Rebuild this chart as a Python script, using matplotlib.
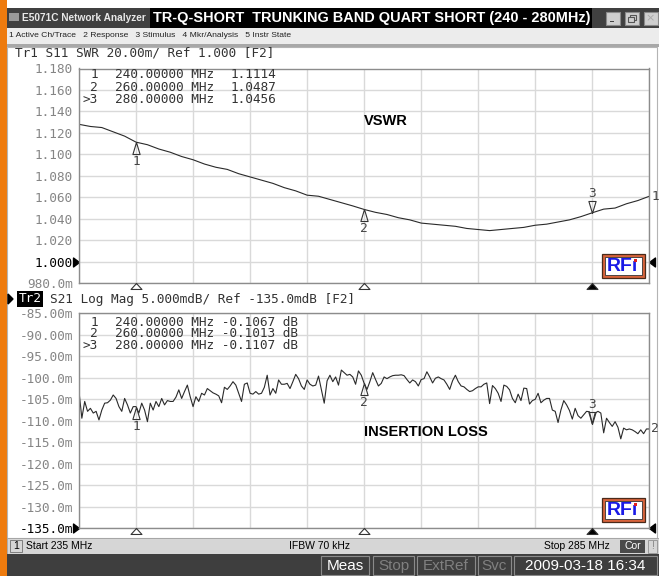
import matplotlib
matplotlib.use("Agg")
import matplotlib.pyplot as plt
from matplotlib.patches import Rectangle

W, H = 659, 576
MONO = "DejaVu Sans Mono"
SANS = "Liberation Sans"

# sweep / data
f_start, f_stop = 235, 285
swr_freq = list(range(235, 286))
swr = [1.128, 1.126, 1.125, 1.121, 1.117, 1.1114, 1.109, 1.105, 1.102, 1.098,
       1.095, 1.091, 1.088, 1.086, 1.082, 1.079, 1.076, 1.073, 1.069, 1.066,
       1.062, 1.061, 1.058, 1.055, 1.052, 1.0487, 1.046, 1.044, 1.041, 1.039,
       1.036, 1.035, 1.034, 1.033, 1.031, 1.030, 1.029, 1.030, 1.031, 1.032,
       1.034, 1.035, 1.037, 1.039, 1.042, 1.0456, 1.049, 1.050, 1.054, 1.057,
       1.061]

il_freq = [235 + 0.25 * k for k in range(201)]
il_mdb = [-103.2, -109.4, -105.5, -107.8, -107.1, -108.2, -107.8, -109.8, -107.5, -105.9,
          -105.8, -105.2, -104.0, -104.8, -106.7, -107.8, -104.8, -106.3, -108.2, -106.7,
          -106.7, -108.2, -105.9, -107.5, -110.2, -105.9, -107.5, -105.5, -106.7, -104.8,
          -106.3, -105.3, -105.5, -105.5, -104.5, -102.8, -104.8, -103.2, -101.7, -104.4,
          -106.7, -104.4, -105.5, -103.6, -104.0, -102.5, -103.0, -103.5, -103.8, -104.2,
          -105.8, -102.2, -102.7, -101.9, -100.9, -101.7, -103.6, -105.5, -101.5, -101.2,
          -103.6, -103.8, -103.2, -103.8, -103.6, -102.2, -99.4, -104.0, -102.5, -103.6,
          -100.5, -101.5, -101.5, -101.3, -102.5, -100.9, -99.2, -100.2, -101.9, -102.7,
          -100.5, -101.5, -101.9, -101.7, -99.6, -102.8, -105.9, -100.7, -99.4, -100.9,
          -99.8, -101.7, -98.2, -98.8, -99.4, -99.2, -99.8, -101.5, -98.4, -99.4,
          -101.3, -102.7, -100.9, -98.8, -100.4, -101.9, -101.3, -99.8, -100.2, -99.8,
          -99.5, -99.4, -99.4, -99.3, -99.5, -100.4, -101.2, -100.5, -100.9, -101.9,
          -100.4, -100.2, -98.6, -99.8, -101.2, -100.1, -99.8, -100.2, -100.5, -101.5,
          -102.7, -100.7, -99.4, -100.9, -101.9, -102.1, -102.7, -103.2, -103.0, -102.5,
          -102.1, -102.1, -101.5, -101.2, -106.0, -101.8, -102.5, -103.6, -105.5, -101.7,
          -102.0, -102.8, -104.8, -105.8, -103.8, -105.3, -102.4, -102.5, -106.1, -105.3,
          -105.0, -103.6, -105.8, -105.2, -104.8, -104.8, -107.5, -107.8, -110.4, -107.5,
          -105.3, -106.3, -107.6, -109.6, -107.1, -108.8, -109.4, -108.6, -107.8, -107.9,
          -110.7, -108.2, -107.8, -108.2, -112.8, -109.4, -110.4, -111.3, -110.2, -111.5,
          -114.2, -111.7, -112.1, -111.9, -112.1, -112.5, -113.0, -112.1, -113.0, -111.9,
          -111.9]

mkr_names = ["1", "2", ">3"]
mkr_freq = [240, 260, 280]
mkr_swr = [1.1114, 1.0487, 1.0456]
mkr_il_db = [-0.1067, -0.1013, -0.1107]

swr_ticks = [1.18, 1.16, 1.14, 1.12, 1.10, 1.08, 1.06, 1.04, 1.02, 1.00, 0.98]
swr_labels = ["1.180", "1.160", "1.140", "1.120", "1.100", "1.080",
              "1.060", "1.040", "1.020", "1.000", "980.0m"]
il_ticks = [-85, -90, -95, -100, -105, -110, -115, -120, -125, -130, -135]
il_labels = ["-85.00m", "-90.00m", "-95.00m", "-100.0m", "-105.0m", "-110.0m",
             "-115.0m", "-120.0m", "-125.0m", "-130.0m", "-135.0m"]


def fr(x0, y0, x1, y1):
    return [x0 / W, 1 - y1 / H, (x1 - x0) / W, (y1 - y0) / H]


def rect(ax, x0, y0, x1, y1, fc, ec="none", lw=0, z=1):
    ax.add_patch(Rectangle((x0, y0), x1 - x0, y1 - y0, fc=fc, ec=ec, lw=lw, zorder=z))


# triangle markers (tip at the data point)
TRI_UP = [(0, 0), (-3.6, -12), (3.6, -12), (0, 0)]
TRI_DN = [(0, 0), (-3.6, 12), (3.6, 12), (0, 0)]
FOOT = [(0, 0), (-5.5, -6), (5.5, -6), (0, 0)]
REF_L = [(0, 0), (-6, 4.5), (-6, -4.5), (0, 0)]
REF_R = [(0, 0), (6, 4.5), (6, -4.5), (0, 0)]

fig = plt.figure(figsize=(W / 100, H / 100), dpi=100)
fig.patch.set_facecolor("white")

bg = fig.add_axes([0, 0, 1, 1], zorder=0)
bg.set_xlim(0, W)
bg.set_ylim(H, 0)
bg.axis("off")

# window chrome
rect(bg, 0, 0, 6.5, H, "#ee7b0e")
rect(bg, 6.5, 8, W, 27.5, "#404040")
rect(bg, 150, 8, 592, 27.5, "black")
rect(bg, 9, 13, 19, 21, "#9a9a9a")
bg.text(22, 18, "E5071C Network Analyzer", color="#e8e8e8", fontsize=7.3,
        family=SANS, weight="bold", va="center")
bg.text(153, 18, "TR-Q-SHORT  TRUNKING BAND QUART SHORT (240 - 280MHz)",
        color="white", fontsize=10.45, family=SANS, weight="bold", va="center")
# title bar buttons: minimise, restore, close (disabled)
for bx in (606, 625, 643.5):
    rect(bg, bx, 12, bx + 14, 25, "#cfcfcf", "#8a8a8a", 0.8, z=2)
rect(bg, 609.5, 20.5, 614, 22, "#444444", z=3)
rect(bg, 630, 15, 636, 20, "none", "#555555", 0.8, z=3)
rect(bg, 628, 17, 634, 22, "#cfcfcf", "#555555", 0.8, z=4)
bg.text(650.5, 18.5, "\u00d7", color="#aaaaaa", fontsize=8, ha="center", va="center",
        zorder=3)
rect(bg, 6.5, 27.5, W, 44, "#ececec")
bg.text(9, 35.5, "1 Active Ch/Trace   2 Response   3 Stimulus   4 Mkr/Analysis   5 Instr State",
        fontsize=6.1, family=SANS, va="center", color="#222222")
rect(bg, 6.5, 44, W, 46.5, "#a8a8a8")
rect(bg, 7, 46.5, 657, 538, "white", "#b4b4b4", 0.8)

# status bar
rect(bg, 6.5, 538, W, 554, "#d6d6d6", "#a0a0a0", 0.6)
rect(bg, 10, 540, 22, 552, "#d6d6d6", "#707070", 0.6, z=2)
bg.text(16, 546, "1", fontsize=7.5, family=SANS, ha="center", va="center", zorder=3)
bg.text(26, 546, "Start 235 MHz", fontsize=7.5, family=SANS, va="center")
bg.text(289, 546, "IFBW 70 kHz", fontsize=7.5, family=SANS, va="center")
bg.text(544, 546, "Stop 285 MHz", fontsize=7.5, family=SANS, va="center")
rect(bg, 620, 539.5, 645, 552.5, "#4a4a4a", z=2)
bg.text(632.5, 546, "Cor", fontsize=7.5, family=SANS, color="white", ha="center",
        va="center", zorder=3)
rect(bg, 648, 539.5, 657, 552.5, "#d6d6d6", "#909090", 0.6, z=2)
bg.text(652.5, 546, "!", fontsize=7.5, family=SANS, color="#888888", ha="center",
        va="center", zorder=3)

# bottom bar
rect(bg, 6.5, 554, W, H, "#3e3e3e")
for x0, x1, label, col in [(321, 369, "Meas", "white"), (373, 414, "Stop", "#808080"),
                           (417, 475, "ExtRef", "#808080"), (478, 511, "Svc", "#808080"),
                           (514, 657, "2009-03-18 16:34", "white")]:
    rect(bg, x0, 556, x1, 575, "#3e3e3e", "#8a8a8a", 0.8, z=2)
    bg.text((x0 + x1) / 2, 566, label, color=col, fontsize=11, family=SANS,
            ha="center", va="center", zorder=3)

# channel headers
bg.text(15, 52.5, "Tr1 S11 SWR 20.00m/ Ref 1.000 [F2]", fontsize=9.2, family=MONO,
        color="#333333", va="center")
bg.add_patch(plt.Polygon([(8, 294), (8, 304), (13, 299)], color="black"))
bg.text(19, 299, "Tr2", fontsize=9.2, family=MONO, color="white", va="center",
        bbox=dict(boxstyle="square,pad=0.12", fc="black", ec="none"))
bg.text(50, 299, "S21 Log Mag 5.000mdB/ Ref -135.0mdB [F2]", fontsize=9.2, family=MONO,
        color="#333333", va="center")


def setup(ax, ticks, labels, ref_idx):
    ax.set_xlim(f_start, f_stop)
    ax.set_ylim(ticks[-1], ticks[0])
    ax.set_xticks(range(f_start, f_stop + 1, 5))
    ax.set_yticks(ticks)
    ax.set_yticklabels(labels)
    ax.tick_params(length=0, labelbottom=False, pad=4.5)
    for lab in ax.get_yticklabels():
        lab.set_family(MONO)
        lab.set_fontsize(9.2)
        lab.set_color("#858585")
    ax.get_yticklabels()[ref_idx].set_color("black")
    ax.grid(True, color="#d9d9d9", lw=1)
    ax.set_axisbelow(True)
    for s in ax.spines.values():
        s.set_color("#8c8c8c")
        s.set_linewidth(1)
    ref = ticks[ref_idx]
    ax.plot([0], [ref], transform=ax.get_yaxis_transform(), marker=REF_L, ms=8.6,
            color="black", clip_on=False)
    ax.plot([1], [ref], transform=ax.get_yaxis_transform(), marker=REF_R, ms=8.6,
            color="black", clip_on=False)
    for i, f in enumerate(mkr_freq):
        ax.plot([f], [0], transform=ax.get_xaxis_transform(), marker=FOOT, ms=8.6,
                mfc="black" if i == 2 else "white", mec="#333333", mew=0.8,
                clip_on=False, zorder=5)


def markers(ax, vals):
    for i, (f, v) in enumerate(zip(mkr_freq, vals)):
        if i < 2:
            ax.plot([f], [v], marker=TRI_UP, ms=17.3, mfc="none", mec="#333333", mew=0.8)
            ax.annotate(str(i + 1), (f, v), xytext=(0, -14), textcoords="offset points",
                        ha="center", va="center", fontsize=9.2, family=MONO, color="#444444")
        else:
            ax.plot([f], [v], marker=TRI_DN, ms=17.3, mfc="none", mec="#333333", mew=0.8)
            ax.annotate("3", (f, v), xytext=(0, 14), textcoords="offset points",
                        ha="center", va="center", fontsize=9.2, family=MONO, color="#444444")


def logo(x0, y0):
    rect(fg, x0, y0, x0 + 43, y0 + 24, "#d8643c", "#4a2a1a", 0.9, z=6)
    rect(fg, x0 + 3, y0 + 3, x0 + 40, y0 + 21, "white", "#333333", 0.6, z=7)
    fg.text(x0 + 20.5, y0 + 12.5, "RF\u0131", color="#1a1ae6", fontsize=14, family=SANS,
            weight="bold", ha="center", va="center", zorder=8)
    rect(fg, x0 + 31.5, y0 + 4.5, x0 + 35, y0 + 7.5, "#e02020", z=9)


ax1 = fig.add_axes(fr(79, 68.5, 649.3, 283.2), zorder=2)
setup(ax1, swr_ticks, swr_labels, 9)
ax1.plot(swr_freq, swr, color="#2a2a2a", lw=0.8)
markers(ax1, mkr_swr)
ax1.annotate("1", (swr_freq[-1], swr[-1]), xytext=(1.5, 0), textcoords="offset points",
             ha="left", va="center", fontsize=9.2, family=MONO, color="#444444")
ax1.text(0.5, 0.757, "VSWR", transform=ax1.transAxes, fontsize=10.5, family=SANS,
         weight="bold", va="center")

ax2 = fig.add_axes(fr(79, 313.3, 649.3, 528.3), zorder=2)
setup(ax2, il_ticks, il_labels, 10)
ax2.plot(il_freq, il_mdb, color="#2a2a2a", lw=0.8)
markers(ax2, [v * 1000 for v in mkr_il_db])
ax2.annotate("2", (il_freq[-1], il_mdb[-1]), xytext=(1.5, 0), textcoords="offset points",
             ha="left", va="center", fontsize=9.2, family=MONO, color="#444444")
ax2.text(0.5, 0.45, "INSERTION LOSS", transform=ax2.transAxes, fontsize=10.5, family=SANS,
         weight="bold", va="center")

# overlay for marker tables and logos
fg = fig.add_axes([0, 0, 1, 1], zorder=5)
fg.set_xlim(0, W)
fg.set_ylim(H, 0)
fg.axis("off")

for i, name in enumerate(mkr_names):
    y = 75 + 12.4 * i
    fg.text(98, y, name, fontsize=9.2, family=MONO, color="#333333", ha="right", va="center")
    fg.text(115, y, "%.5f MHz" % mkr_freq[i], fontsize=9.2, family=MONO, color="#333333",
            va="center")
    fg.text(231, y, "%.4f" % mkr_swr[i], fontsize=9.2, family=MONO, color="#333333",
            va="center")
for i, name in enumerate(mkr_names):
    y = 322 + 11.8 * i
    fg.text(98, y, name, fontsize=9.2, family=MONO, color="#333333", ha="right", va="center")
    fg.text(115, y, "%.5f MHz %.4f dB" % (mkr_freq[i], mkr_il_db[i]), fontsize=9.2,
            family=MONO, color="#333333", va="center")

logo(602, 254)
logo(602, 498)

fig.savefig("out.png", dpi=100)
